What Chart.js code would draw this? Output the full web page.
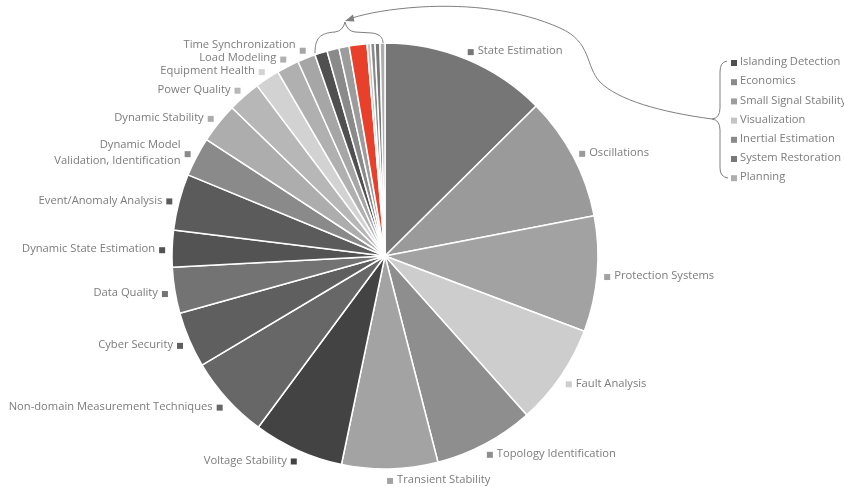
<!DOCTYPE html>
<html>
<head>
<meta charset="utf-8">
<script src="https://cdn.jsdelivr.net/npm/chart.js"></script>
<style>
  html, body { margin: 0; padding: 0; background: #fff; }
  #wrap { width: 844px; height: 487px; position: relative; }
</style>
</head>
<body>
<div id="wrap"><canvas id="pie"></canvas></div>
<script>
// slice names, clockwise from 12 o'clock (the red one has no name)
const topics = [
  "State Estimation", "Oscillations", "Protection Systems", "Fault Analysis",
  "Topology Identification", "Transient Stability", "Voltage Stability",
  "Non-domain Measurement Techniques", "Cyber Security", "Data Quality",
  "Dynamic State Estimation", "Event/Anomaly Analysis",
  "Dynamic Model\nValidation, Identification", "Dynamic Stability",
  "Power Quality", "Equipment Health", "Load Modeling", "Time Synchronization",
  "Islanding Detection", "Economics", "Small Signal Stability", "",
  "Visualization", "Inertial Estimation", "System Restoration", "Planning",
];

// share of each topic
const shares = [
  45.2, 33.9, 31.6, 27.6, 27.3, 26.2, 24.7, 22.7, 15.2, 12.6, 10.0, 15.4, 10.7,
  11.0, 9.0, 6.7, 6.1, 4.9, 3.4, 3.3, 2.8, 4.85, 0.95, 1.2, 1.35, 1.35,
];

const sliceColors = [
  "#767676", "#9a9a9a", "#a2a2a2", "#cdcdcd", "#8e8e8e", "#a3a3a3", "#434343",
  "#676767", "#5f5f5f", "#737373", "#535353", "#5b5b5b", "#8a8a8a", "#adadad",
  "#b7b7b7", "#d2d2d2", "#b0b0b0", "#a6a6a6", "#505050", "#8a8a8a", "#9c9c9c",
  "#e8402a", "#c4c4c4", "#8a8a8a", "#787878", "#adadad",
];

// the first slices get a label next to them, the small ones go in the side list
const calloutCount = 18;

const textColor = "#7c7c7c";
const font = "11.2px 'Open Sans', sans-serif";

const outerLabels = {
  id: "outerLabels",
  afterDraw(chart) {
    const ctx = chart.ctx;
    const arcs = chart.getDatasetMeta(0).data;
    ctx.save();
    ctx.font = font;
    ctx.textBaseline = "middle";
    let prevTextY = null;
    arcs.forEach((arc, i) => {
      if (i >= calloutCount) return;
      const mid = (arc.startAngle + arc.endAngle) / 2;
      const r = arc.outerRadius + 10;
      const x = arc.x + Math.cos(mid) * r;
      const y = arc.y + Math.sin(mid) * r + 2;
      const rightSide = x > arc.x + 1;
      ctx.fillStyle = sliceColors[i];
      ctx.fillRect(x - 3, y - 3, 6, 6);
      ctx.fillStyle = textColor;
      ctx.textAlign = rightSide ? "left" : "right";
      // going up the left side, keep labels from running into each other
      let ty = y - 1;
      if (!rightSide && prevTextY !== null) ty = Math.min(ty, prevTextY - 13);
      prevTextY = rightSide ? null : ty;
      const lines = topics[i].split("\n");
      const lh = 16;
      lines.forEach((line, k) => {
        const ly = ty + (k - (lines.length - 1) / 2) * lh;
        ctx.fillText(line, rightSide ? x + 7 : x - 7, ly);
      });
    });

    // list of the small slices on the right
    let row = 0;
    for (let i = calloutCount; i < topics.length; i++) {
      if (!topics[i]) continue;
      const y = 63 + row * 19.2;
      ctx.fillStyle = sliceColors[i];
      ctx.fillRect(731, y - 3, 6, 6);
      ctx.fillStyle = textColor;
      ctx.textAlign = "left";
      ctx.fillText(topics[i], 740, y - 1);
      row++;
    }

    // braces and the connecting arrow
    ctx.strokeStyle = "#7f7f7f";
    ctx.lineWidth = 1;
    ctx.beginPath();
    ctx.moveTo(315, 53);
    ctx.bezierCurveTo(315, 38, 320, 33, 335, 32);
    ctx.quadraticCurveTo(343, 31, 345, 22);
    ctx.quadraticCurveTo(347, 31, 355, 32);
    ctx.lineTo(372, 33);
    ctx.bezierCurveTo(380, 34, 383, 38, 383, 43);
    ctx.stroke();

    ctx.beginPath();
    ctx.moveTo(727, 61);
    ctx.quadraticCurveTo(720, 62, 720, 72);
    ctx.lineTo(720, 108);
    ctx.quadraticCurveTo(720, 118, 712, 119);
    ctx.quadraticCurveTo(720, 120, 720, 130);
    ctx.lineTo(720, 168);
    ctx.quadraticCurveTo(720, 177, 728, 178);
    ctx.stroke();

    ctx.beginPath();
    ctx.moveTo(712, 119);
    ctx.bezierCurveTo(660, 112, 618, 100, 600, 82);
    ctx.bezierCurveTo(585, 66, 592, 42, 560, 28);
    ctx.bezierCurveTo(520, 10, 470, 4, 420, 7);
    ctx.bezierCurveTo(390, 9, 368, 13, 352, 18);
    ctx.stroke();
    // arrow head
    ctx.fillStyle = "#7f7f7f";
    ctx.beginPath();
    ctx.moveTo(345, 21);
    ctx.lineTo(353, 14.5);
    ctx.lineTo(354.5, 21.5);
    ctx.closePath();
    ctx.fill();
    ctx.restore();
  },
};

new Chart(document.getElementById("pie"), {
  type: "pie",
  data: {
    labels: topics,
    datasets: [
      {
        data: shares,
        backgroundColor: sliceColors,
        borderColor: "#ffffff",
        borderWidth: 1.5,
        hoverOffset: 0,
        radius: 213,
      },
    ],
  },
  options: {
    responsive: true,
    maintainAspectRatio: false,
    animation: false,
    layout: {
      padding: { top: 43, bottom: 18, left: 172, right: 246 },
    },
    plugins: {
      legend: { display: false },
      tooltip: { enabled: false },
    },
  },
  plugins: [outerLabels],
});
</script>
</body>
</html>
